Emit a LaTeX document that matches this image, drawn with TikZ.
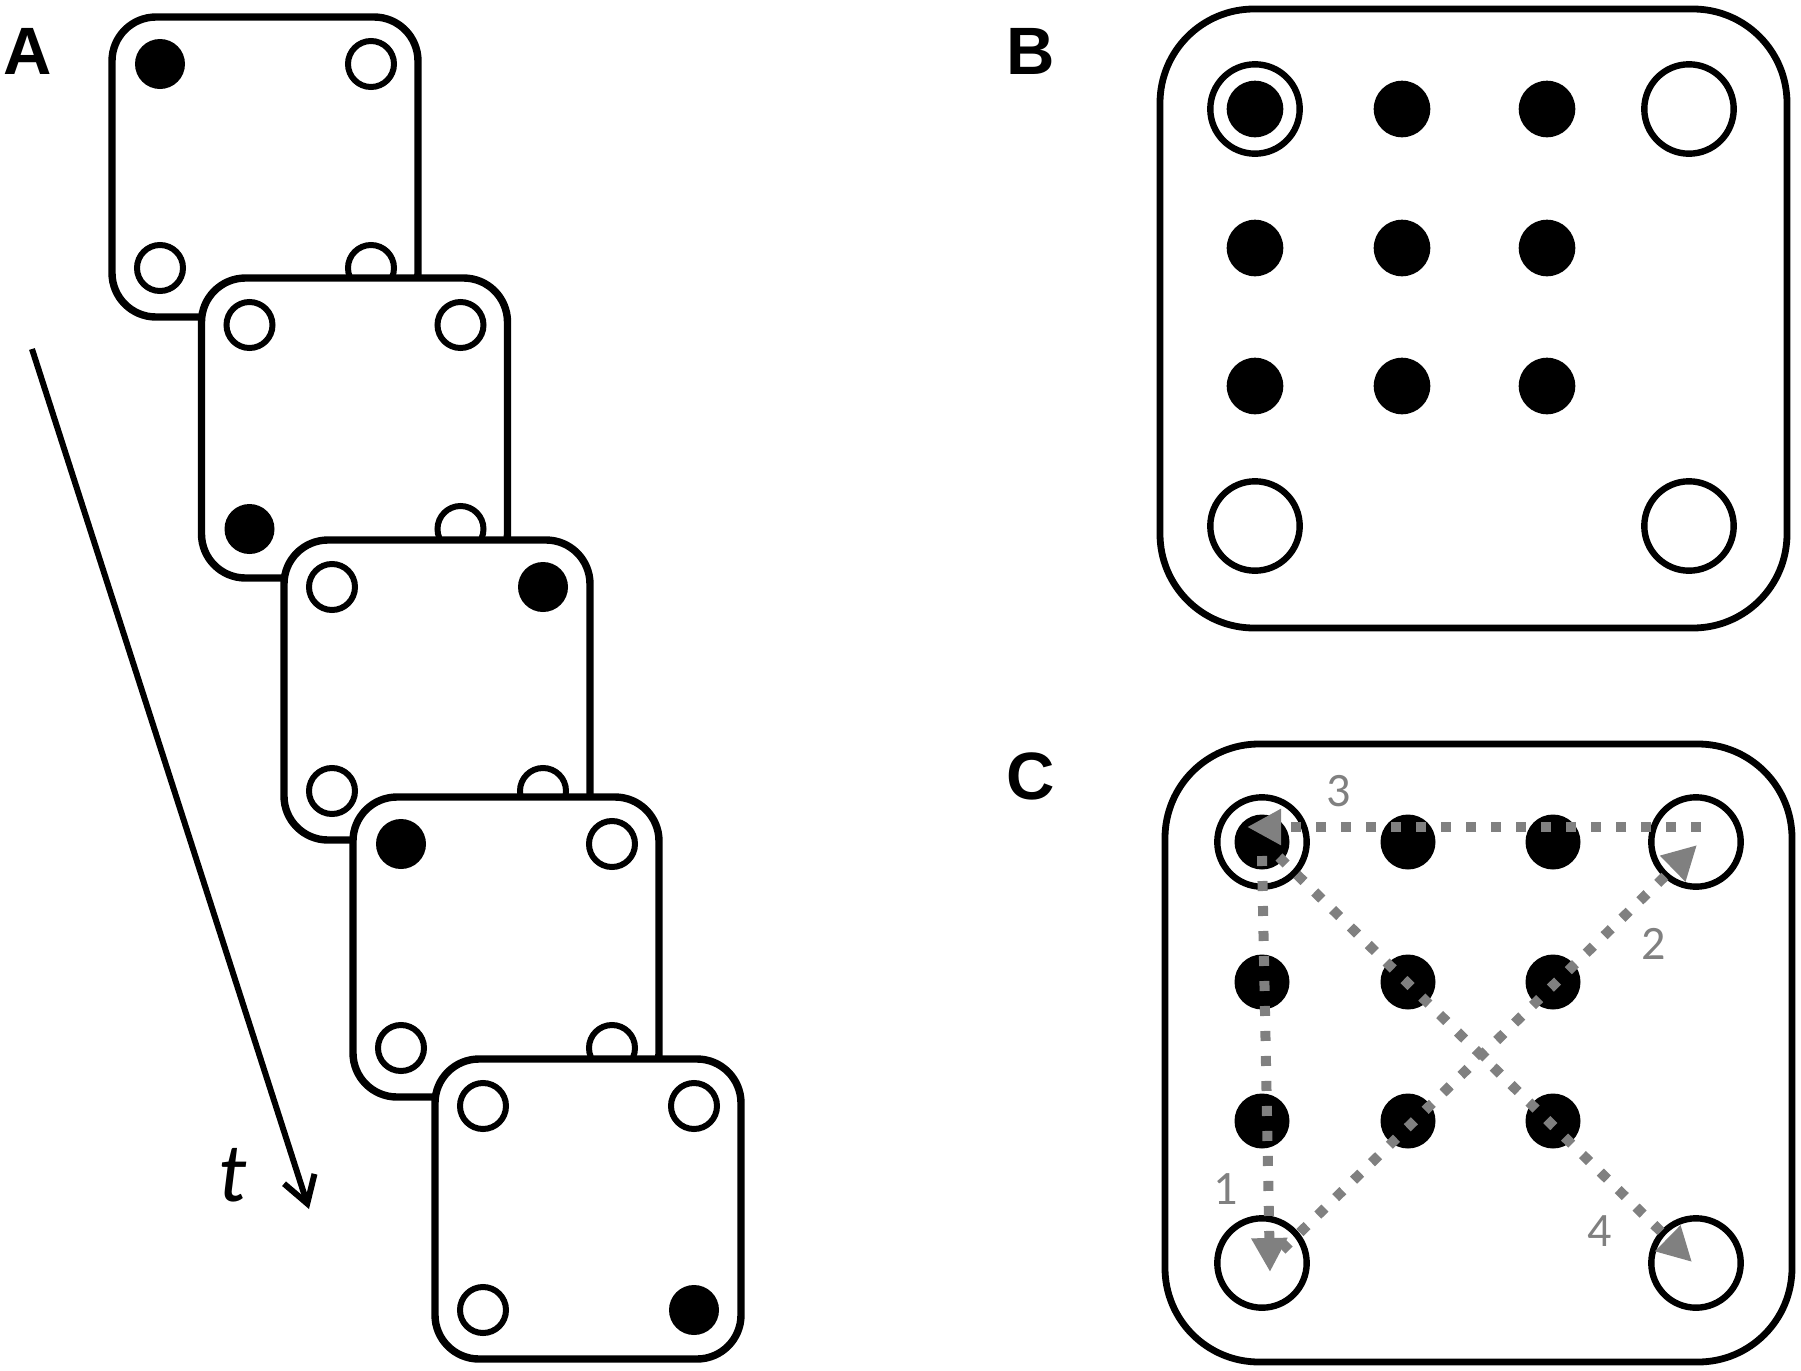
\documentclass[tikz,border=0pt]{standalone}
\usepackage{fontspec}
\setmainfont{Liberation Sans}
\newfontfamily\calib{Carlito}
\usetikzlibrary{arrows.meta}
\definecolor{dotgray}{RGB}{128,128,128}
\tikzset{
  cardbox/.style={rectangle, draw=black, line width=3.7pt, fill=white, rounded corners=22pt,
    minimum width=153pt, minimum height=150pt, inner sep=0pt, outer sep=0pt},
  panelbox/.style={rectangle, draw=black, line width=3.4pt, rounded corners=47pt,
    inner sep=0pt, outer sep=0pt},
  odot/.style={circle, draw=black, line width=3pt, fill=white, minimum size=23pt, inner sep=0pt},
  fdot/.style={circle, fill=black, minimum size=25pt, inner sep=0pt},
  bring/.style={circle, draw=black, line width=3.2pt, minimum size=44.7pt, inner sep=0pt},
  bdot/.style={circle, fill=black, minimum size=28.3pt, inner sep=0pt},
  cdot/.style={circle, fill=black, minimum size=27.5pt, inner sep=0pt},
  panlab/.style={font=\fontsize{33.5}{40}\selectfont\bfseries, inner sep=0pt, anchor=base west},
  tlab/.style={font=\calib\itshape\fontsize{42}{48}\selectfont, inner sep=0pt, anchor=base},
  numlab/.style={font=\calib\fontsize{24}{28}\selectfont, text=dotgray, inner sep=0pt, anchor=base},
  timearrow/.style={draw=black, line width=3pt, -{Straight Barb[length=13pt,width=16pt]}},
  gpath/.style={draw=dotgray, line width=5pt, dash pattern=on 5pt off 7.5pt,
    -{Triangle[length=17pt,width=17pt]}},
}
\begin{document}
\begin{tikzpicture}[x=0.5pt,y=-0.5pt]
\path[use as bounding box] (0,0) rectangle (1801,1371);

% ---------- Panel A ----------
\node[panlab] (labA) at (3,74) {A};
\foreach \k/\x/\y/\f in {1/112/17/1, 2/201.5/278/3, 3/284/540/2, 4/353/797/1, 5/435/1059/4}{
  \node[cardbox, anchor=north west] (card\k) at (\x,\y) {};
  \foreach \i/\dx/\dy in {1/48/47, 2/259/47, 3/48/251, 4/259/251}{
    \ifnum\i=\f
      \node[fdot] (d\k\i) at ({\x+\dx},{\y+\dy}) {};
    \else
      \node[odot] (d\k\i) at ({\x+\dx},{\y+\dy}) {};
    \fi
  }
}
\coordinate (t0) at (32,349);
\coordinate (t1) at (309,1209);
\draw[timearrow] (t0) -- (t1);
\node[tlab] (tl) at (233,1201) {t};

% ---------- Panel B ----------
\node[panlab] (labB) at (1006,74) {B};
\node[panelbox, minimum width=313.5pt, minimum height=309.5pt, anchor=north west] (pB) at (1160,9) {};
\node[bring] (b11r) at (1255,109) {};
\node[bdot]  (b11)  at (1255,109) {};
\node[bdot]  (b21)  at (1402,109) {};
\node[bdot]  (b31)  at (1547,109) {};
\node[bring] (b41)  at (1689,109) {};
\node[bdot]  (b12)  at (1255,248) {};
\node[bdot]  (b22)  at (1402,248) {};
\node[bdot]  (b32)  at (1547,248) {};
\node[bdot]  (b13)  at (1255,386) {};
\node[bdot]  (b23)  at (1402,386) {};
\node[bdot]  (b33)  at (1547,386) {};
\node[bring] (b14)  at (1255,526) {};
\node[bring] (b44)  at (1689,526) {};

% ---------- Panel C ----------
\node[panlab] (labC) at (1006,799) {C};
\node[panelbox, minimum width=313.5pt, minimum height=309pt, anchor=north west] (pC) at (1165,744) {};
\node[bring] (c11r) at (1262,842) {};
\node[cdot]  (c11)  at (1262,842) {};
\node[cdot]  (c21)  at (1408,842) {};
\node[cdot]  (c31)  at (1553,842) {};
\node[bring] (c41)  at (1696,842) {};
\node[cdot]  (c12)  at (1262,982) {};
\node[cdot]  (c22)  at (1408,982) {};
\node[cdot]  (c32)  at (1553,982) {};
\node[cdot]  (c13)  at (1262,1121) {};
\node[cdot]  (c23)  at (1408,1121) {};
\node[cdot]  (c33)  at (1553,1121) {};
\node[bring] (c14)  at (1262,1263) {};
\node[bring] (c44)  at (1696,1263) {};

\coordinate (p1s) at (1262,856);
\coordinate (p1e) at (1270,1272);
\coordinate (p2s) at (1282,1250);
\coordinate (p2e) at (1697,845);
\coordinate (p3s) at (1701,827);
\coordinate (p3e) at (1247,827);
\coordinate (p4s) at (1279,857);
\coordinate (p4e) at (1692,1262);
\draw[gpath] (p1s) -- (p1e);
\draw[gpath] (p2s) -- (p2e);
\draw[gpath] (p3s) -- (p3e);
\draw[gpath] (p4s) -- (p4e);

\node[numlab] (n1) at (1226,1204) {1};
\node[numlab] (n2) at (1654,959) {2};
\node[numlab] (n3) at (1339,806) {3};
\node[numlab] (n4) at (1600,1246) {4};
\end{tikzpicture}
\end{document}
